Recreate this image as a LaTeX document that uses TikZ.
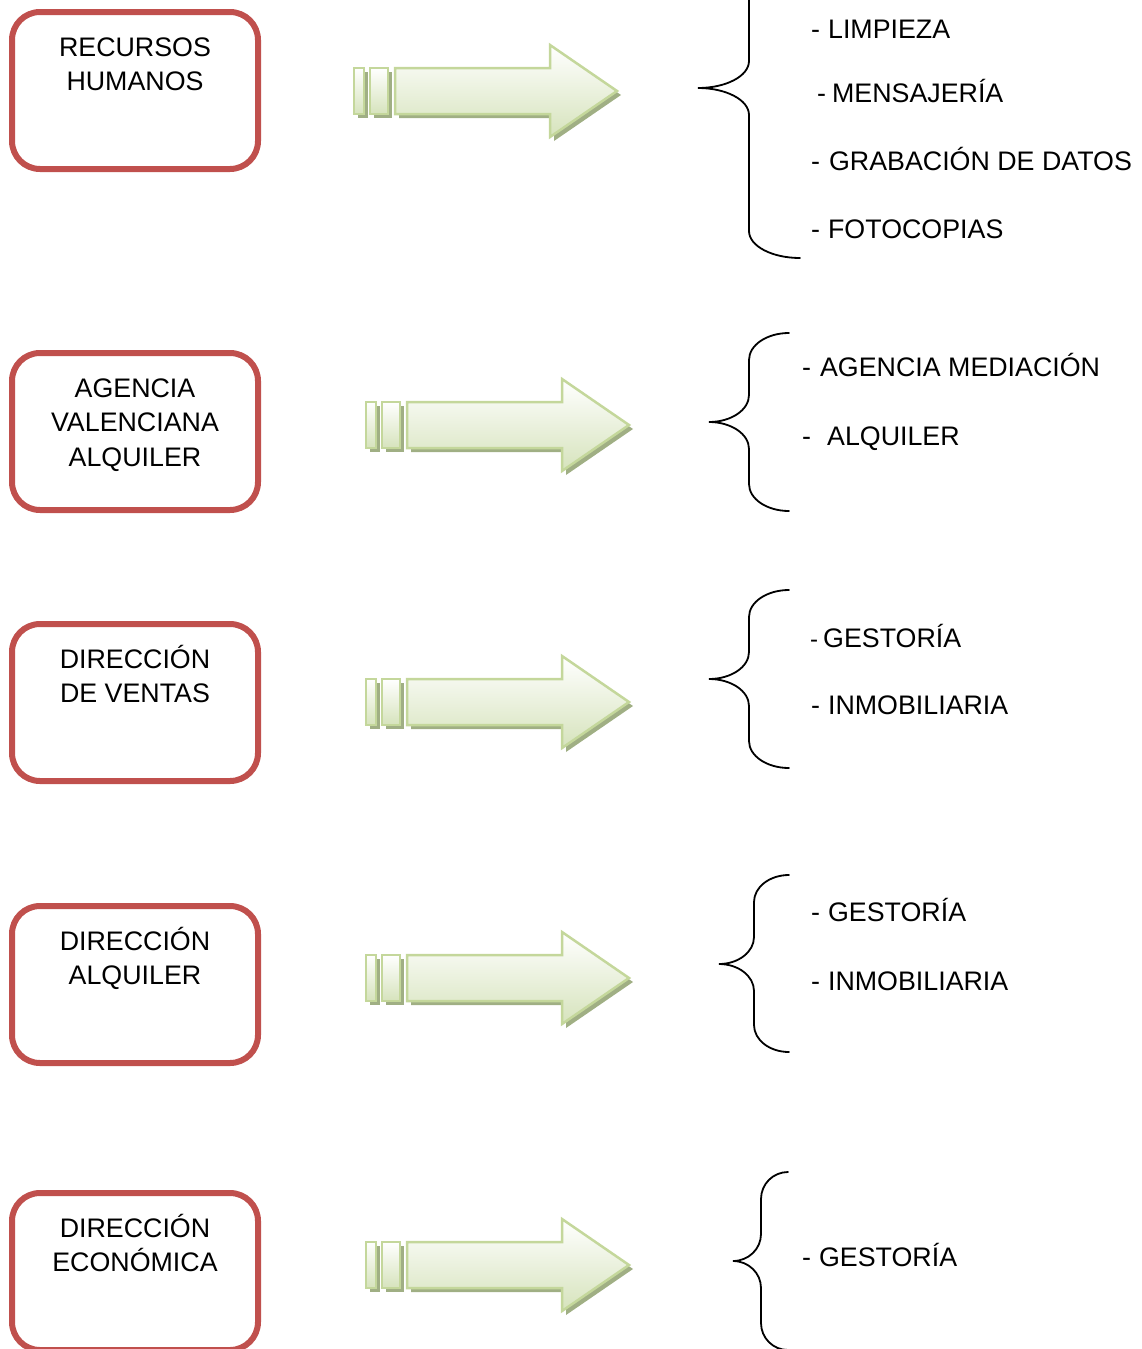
\documentclass[tikz,border=0pt]{standalone}
\usepackage{fontspec}
\setmainfont{Liberation Sans}
\definecolor{boxred}{RGB}{192,80,77}
\definecolor{arrowline}{RGB}{196,215,155}
\definecolor{arrowfill}{RGB}{214,227,188}
\definecolor{arrowshadow}{RGB}{160,175,132}

% hyphen, a gap of #1 pt, then the entry text
\newcommand\hy[2]{-\hspace{#1pt}#2}
% same with a smaller hyphen
\newcommand\shy[2]{{\fontsize{24}{24}\selectfont -}\hspace{#1pt}#2}

% striped block arrow: left edge #1, vertical centre #2
\newcommand\blockarrow[2]{%
  \begin{scope}[shift={(4,4)}]
    \fill[arrowshadow] (#1,{#2-23}) rectangle ({#1+10},{#2+23});
    \fill[arrowshadow] ({#1+16},{#2-23}) rectangle ({#1+34},{#2+23});
    \fill[arrowshadow] ({#1+41},{#2-23}) -- ({#1+196},{#2-23}) -- ({#1+196},{#2-46})
      -- ({#1+263},#2) -- ({#1+196},{#2+46}) -- ({#1+196},{#2+23}) -- ({#1+41},{#2+23}) -- cycle;
  \end{scope}
  \shadedraw[arrowbody] (#1,{#2-23}) rectangle ({#1+10},{#2+23});
  \shadedraw[arrowbody] ({#1+16},{#2-23}) rectangle ({#1+34},{#2+23});
  \shadedraw[arrowbody] ({#1+41},{#2-23}) -- ({#1+196},{#2-23}) -- ({#1+196},{#2-46})
      -- ({#1+263},#2) -- ({#1+196},{#2+46}) -- ({#1+196},{#2+23}) -- ({#1+41},{#2+23}) -- cycle;
}

% curly brace: spine x #1, tip x #2, top y #3, middle y #4, bottom y #5, end x #6
\newcommand\curlybrace[6]{%
  \draw[bracestyle] (#6,#3)
    .. controls ({#6-0.552*(#6-#1)},#3) and (#1,{#3+12}) .. (#1,{#3+27})
    -- (#1,{#4-27})
    .. controls (#1,{#4-12}) and ({#2+0.552*(#1-#2)},#4) .. (#2,#4)
    .. controls ({#2+0.552*(#1-#2)},#4) and (#1,{#4+12}) .. (#1,{#4+27})
    -- (#1,{#5-27})
    .. controls (#1,{#5-12}) and ({#6-0.552*(#6-#1)},#5) .. (#6,#5);
}

\begin{document}
\begin{tikzpicture}[x=1pt,y=-1pt,
  unitbox/.style={draw=boxred, line width=6pt, rounded corners=28pt,
    minimum width=246pt, minimum height=157pt, inner sep=0pt, outer sep=0pt,
    anchor=north west},
  boxlabel/.style={anchor=base, inner sep=0pt, font=\fontsize{26.8}{34}\selectfont},
  item/.style={anchor=base west, inner sep=0pt, font=\fontsize{26.8}{34}\selectfont},
  arrowbody/.style={draw=arrowline, line width=2.5pt, line join=miter,
    top color=white, bottom color=arrowfill},
  bracestyle/.style={line width=1.8pt, line cap=round}]
\useasboundingbox (0,0) rectangle (1142,1349);
\clip (0,0) rectangle (1142,1349);

% departments
\node[unitbox] (rrhh) at (12,12) {};
\node[boxlabel] (rrhh-l1) at (135,56) {RECURSOS};
\node[boxlabel] (rrhh-l2) at (135,90.5) {HUMANOS};

\node[unitbox] (ava) at (12,353) {};
\node[boxlabel] (ava-l1) at (135,397) {AGENCIA};
\node[boxlabel] (ava-l2) at (135,431.5) {VALENCIANA};
\node[boxlabel] (ava-l3) at (135,466) {ALQUILER};

\node[unitbox] (dv) at (12,624) {};
\node[boxlabel] (dv-l1) at (135,668) {DIRECCIÓN};
\node[boxlabel] (dv-l2) at (135,702.5) {DE VENTAS};

\node[unitbox] (da) at (12,906) {};
\node[boxlabel] (da-l1) at (135,950) {DIRECCIÓN};
\node[boxlabel] (da-l2) at (135,984.5) {ALQUILER};

\node[unitbox] (de) at (12,1193) {};
\node[boxlabel] (de-l1) at (135,1237) {DIRECCIÓN};
\node[boxlabel] (de-l2) at (135,1271.5) {ECONÓMICA};

% arrows
\blockarrow{354}{91}
\blockarrow{366}{425}
\blockarrow{366}{702}
\blockarrow{366}{978}
\blockarrow{366}{1265}

% braces
\curlybrace{749}{698}{-82}{88}{258}{800}
\curlybrace{749}{709}{333}{422}{511}{789}
\curlybrace{749}{709}{590}{679}{768}{789}
\curlybrace{754}{719}{875}{964}{1052}{789}
\curlybrace{761}{733}{1172}{1261}{1350}{788}

% services
\node[item] (rrhh-a) at (811,38.5) {\hy{8}{LIMPIEZA}};
\node[item] (rrhh-b) at (817,102.5) {\hy{6}{MENSAJERÍA}};
\node[item] (rrhh-c) at (811,170) {\hy{9}{GRABACIÓN DE DATOS}};
\node[item] (rrhh-d) at (811,238.5) {\hy{8}{FOTOCOPIAS}};

\node[item] (ava-a) at (802,376.5) {\hy{9}{AGENCIA MEDIACIÓN}};
\node[item] (ava-b) at (802,445.5) {\hy{16}{ALQUILER}};

\node[item] (dv-a) at (810,647.5) {\shy{5}{GESTORÍA}};
\node[item] (dv-b) at (811,714.5) {\hy{8}{INMOBILIARIA}};

\node[item] (da-a) at (811,921.5) {\hy{8}{GESTORÍA}};
\node[item] (da-b) at (811,990.5) {\hy{8}{INMOBILIARIA}};

\node[item] (de-a) at (802,1266.5) {\hy{8}{GESTORÍA}};
\end{tikzpicture}
\end{document}
